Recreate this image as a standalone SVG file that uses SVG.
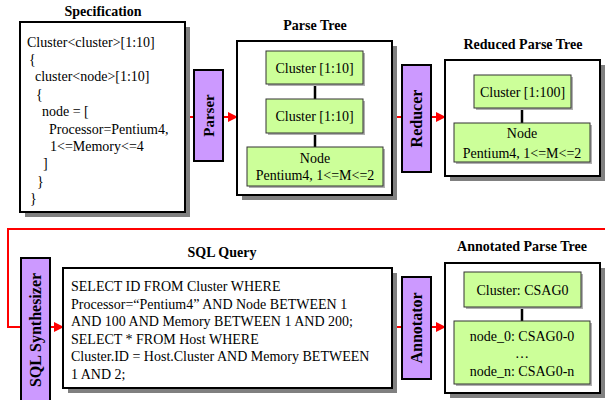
<svg xmlns="http://www.w3.org/2000/svg" width="605" height="400" viewBox="0 0 605 400">
<style>
text{font-family:"Liberation Serif","Times New Roman",serif;font-size:14px;fill:#000}
.title{font-weight:bold;text-anchor:middle}
.proc{font-weight:bold;font-size:16px;text-anchor:middle;dominant-baseline:central}
.box{fill:#fff;stroke:#000;stroke-width:2}
.shadow{fill:#808080}
.pbox{fill:#cc99ff;stroke:#000;stroke-width:2}
.gbox{fill:#ccff99;stroke:#333;stroke-width:1}
.gsh{fill:#b0b0b0}
.c{text-anchor:middle}
.red{stroke:#ff0000;stroke-width:2;fill:none}
.tree{stroke:#000;stroke-width:2.5}
</style>
<defs>
<marker id="arr" markerWidth="10" markerHeight="10" refX="9" refY="5" orient="auto" markerUnits="userSpaceOnUse">
<path d="M0,0 L10,5 L0,10 Z" fill="#ff0000"/>
</marker>
</defs>

<g id="connectors">
<line class="red" x1="185" y1="117" x2="194" y2="117"/>
<line class="red" x1="223" y1="117" x2="237" y2="117" marker-end="url(#arr)"/>
<line class="red" x1="392" y1="117" x2="402" y2="117"/>
<line class="red" x1="431" y1="117" x2="445" y2="117" marker-end="url(#arr)"/>
<path class="red" d="M600,118 H606 M606,229 H8 V327 H21"/>
<line class="red" x1="50" y1="327" x2="63" y2="327" marker-end="url(#arr)"/>
<line class="red" x1="392" y1="327" x2="402" y2="327"/>
<line class="red" x1="431" y1="327" x2="445" y2="327" marker-end="url(#arr)"/>
</g>

<g id="specification">
<text class="title" x="103" y="16">Specification</text>
<rect class="shadow" x="25" y="27" width="165" height="190"/>
<rect class="box" x="20" y="22" width="165" height="190"/>
<text x="27" y="46.7">Cluster&lt;cluster&gt;[1:10]</text>
<text x="29" y="64">{</text>
<text x="35" y="81.4">cluster&lt;node&gt;[1:10]</text>
<text x="36" y="98.8">{</text>
<text x="42" y="116.2">node = [</text>
<text x="49" y="133.5">Processor=Pentium4,</text>
<text x="50" y="150.9">1&lt;=Memory&lt;=4</text>
<text x="43" y="168.3">]</text>
<text x="37" y="185.7">}</text>
<text x="30" y="203">}</text>
</g>

<g id="parser">
<rect class="pbox" x="194" y="70" width="29" height="91"/>
<text class="proc" style="font-size:15px" transform="translate(208.5,115.5) rotate(-90)">Parser</text>
</g>

<g id="parse-tree">
<text class="title" x="315" y="30">Parse Tree</text>
<rect class="shadow" x="242" y="46" width="155" height="154"/>
<rect class="box" x="237" y="41" width="155" height="154"/>
<line class="tree" x1="315" y1="84" x2="315" y2="99"/>
<line class="tree" x1="315" y1="133" x2="315" y2="147"/>
<rect class="gsh" x="268" y="53" width="97" height="33"/>
<rect class="gbox" x="266" y="51" width="97" height="33"/>
<text class="c" x="314.5" y="72.5">Cluster [1:10]</text>
<rect class="gsh" x="268" y="101" width="97" height="34"/>
<rect class="gbox" x="266" y="99" width="97" height="34"/>
<text class="c" x="314.5" y="121">Cluster [1:10]</text>
<rect class="gsh" x="249" y="149" width="136" height="39"/>
<rect class="gbox" x="247" y="147" width="136" height="39"/>
<text class="c" x="315" y="163">Node</text>
<text class="c" x="315" y="180">Pentium4, 1&lt;=M&lt;=2</text>
</g>

<g id="reducer">
<rect class="pbox" x="402" y="65" width="29" height="107"/>
<text class="proc" transform="translate(416.5,118.5) rotate(-90)">Reducer</text>
</g>

<g id="reduced-parse-tree">
<text class="title" x="523" y="49">Reduced Parse Tree</text>
<rect class="shadow" x="450" y="65" width="155" height="116"/>
<rect class="box" x="445" y="60" width="155" height="116"/>
<line class="tree" x1="522" y1="108" x2="522" y2="123"/>
<rect class="gsh" x="476" y="77" width="97" height="33"/>
<rect class="gbox" x="474" y="75" width="97" height="33"/>
<text class="c" x="522.5" y="96.5">Cluster [1:100]</text>
<rect class="gsh" x="456" y="125" width="136" height="39"/>
<rect class="gbox" x="454" y="123" width="136" height="39"/>
<text class="c" x="522" y="138">Node</text>
<text class="c" x="522" y="158">Pentium4, 1&lt;=M&lt;=2</text>
</g>

<g id="sql-synthesizer">
<rect class="pbox" x="21" y="258" width="29" height="146"/>
<text class="proc" transform="translate(35.5,330) rotate(-90)">SQL Synthesizer</text>
</g>

<g id="sql-query">
<text class="title" x="222" y="257">SQL Query</text>
<rect class="shadow" x="68" y="273" width="329" height="120"/>
<rect class="box" x="63" y="268" width="329" height="120"/>
<text x="71" y="291">SELECT ID FROM Cluster WHERE</text>
<text x="71" y="308.6">Processor=“Pentium4” AND Node BETWEEN 1</text>
<text x="71" y="326.2">AND 100 AND Memory BETWEEN 1 AND 200;</text>
<text x="71" y="343.8">SELECT * FROM Host WHERE</text>
<text x="71" y="361.4">Cluster.ID = Host.Cluster AND Memory BETWEEN</text>
<text x="71" y="379">1 AND 2;</text>
</g>

<g id="annotator">
<rect class="pbox" x="402" y="277" width="29" height="102"/>
<text class="proc" transform="translate(416.5,328) rotate(-90)">Annotator</text>
</g>

<g id="annotated-parse-tree">
<text class="title" x="522" y="251">Annotated Parse Tree</text>
<rect class="shadow" x="450" y="268" width="155" height="130"/>
<rect class="box" x="445" y="263" width="155" height="130"/>
<line class="tree" x1="522" y1="307" x2="522" y2="321"/>
<rect class="gsh" x="466" y="274" width="117" height="35"/>
<rect class="gbox" x="464" y="272" width="117" height="35"/>
<text class="c" x="522.5" y="294.5">Cluster: CSAG0</text>
<rect class="gsh" x="456" y="323" width="136" height="63"/>
<rect class="gbox" x="454" y="321" width="136" height="63"/>
<text class="c" x="522" y="341">node_0: CSAG0-0</text>
<text class="c" x="522" y="358">…</text>
<text class="c" x="522" y="376">node_n: CSAG0-n</text>
</g>
</svg>
